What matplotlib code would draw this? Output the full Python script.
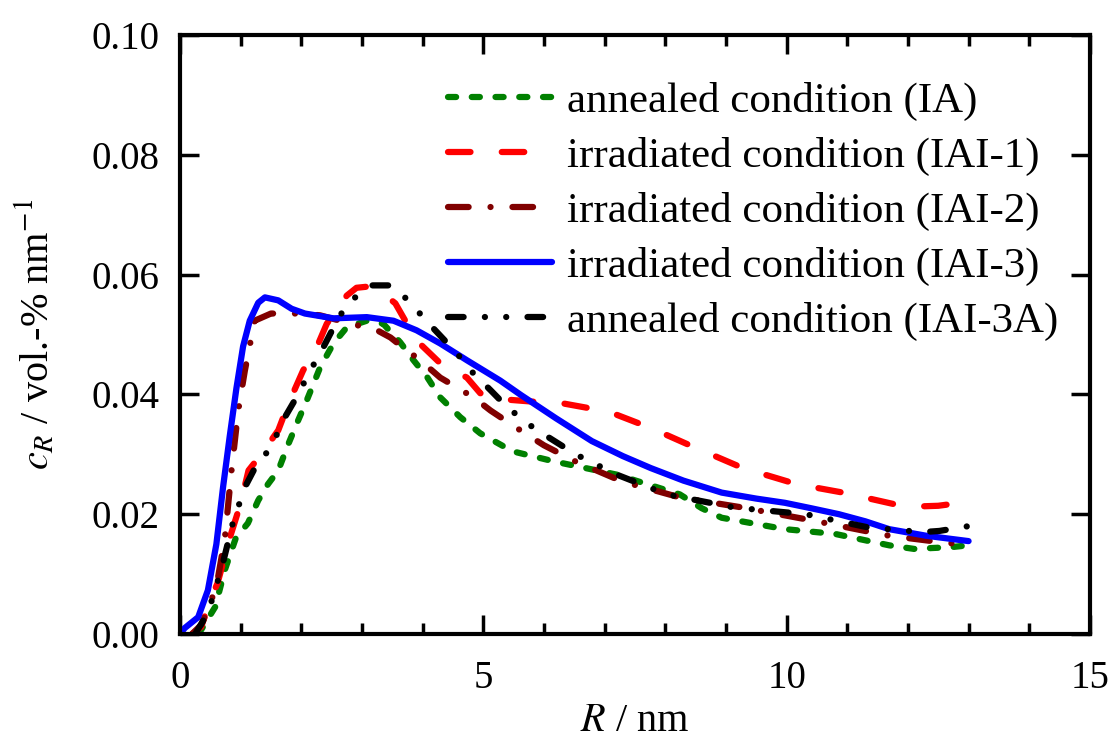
import matplotlib
matplotlib.use("Agg")
from matplotlib import pyplot as plt

plt.rcParams['font.family'] = ['Liberation Serif', 'DejaVu Serif']
plt.rcParams['mathtext.fontset'] = 'stix'

# annealed condition (IA)
r_ia = [0.3, 0.35, 0.58, 0.74, 0.92, 1.12, 1.29, 1.45, 1.62, 1.79, 1.95, 2.09, 2.31, 2.53, 2.75, 3.08,
        3.35, 3.63, 3.85, 4.08, 4.29, 4.62, 4.95, 5.48, 6.17, 7.2, 8.24, 8.6, 8.93, 9.97, 10.8, 11.69,
        12.1, 12.72, 13.0]
c_ia = [0, 0.0007, 0.0045, 0.0107, 0.016, 0.0185, 0.0223, 0.025, 0.0273, 0.0318, 0.0357, 0.039, 0.0445,
        0.0485, 0.0512, 0.0523, 0.0518, 0.0487, 0.0457, 0.0428, 0.0395, 0.0362, 0.0335, 0.0305, 0.0288,
        0.0266, 0.0233, 0.021, 0.0194, 0.0175, 0.0167, 0.0148, 0.0142, 0.0145, 0.0148]

# irradiated condition (IAI-1)
r_iai1 = [0.2, 0.35, 0.5, 0.62, 0.82, 1.0, 1.13, 1.34, 1.62, 1.79, 2.03, 2.26, 2.42, 2.75, 2.91, 3.1,
          3.33, 3.55, 3.9, 4.29, 4.73, 4.95, 5.3, 5.8, 6.31, 7.07, 7.76, 8.45, 9.28, 10.17, 10.93, 11.76,
          12.2, 12.5, 12.8, 13.0]
c_iai1 = [0, 0.0012, 0.0057, 0.0085, 0.016, 0.0218, 0.0273, 0.030, 0.034, 0.0385, 0.044, 0.048, 0.0518,
          0.0565, 0.0578, 0.058, 0.057, 0.0552, 0.049, 0.0452, 0.0428, 0.0402, 0.0392, 0.0388, 0.0385,
          0.0371, 0.0344, 0.0313, 0.0277, 0.025, 0.0236, 0.0217, 0.0213, 0.0214, 0.0218, 0.0222]

# irradiated condition (IAI-2)
r_iai2 = [0.2, 0.35, 0.5, 0.62, 0.74, 0.85, 0.96, 1.07, 1.23, 1.5, 1.98, 2.31, 2.64, 2.94, 3.25, 3.47,
          3.68, 3.96, 4.29, 4.84, 5.12, 5.55, 6.0, 6.52, 7.28, 8.24, 9.28, 10.45, 11.69, 12.4, 13.0]
c_iai2 = [0, 0.0015, 0.005, 0.009, 0.016, 0.0273, 0.0373, 0.044, 0.0523, 0.0535, 0.0535, 0.0532, 0.0523,
          0.0515, 0.0507, 0.0495, 0.0478, 0.0457, 0.0428, 0.0395, 0.0373, 0.0344, 0.0315, 0.0288, 0.0255,
          0.0228, 0.0211, 0.0189, 0.0164, 0.0155, 0.0148]

# irradiated condition (IAI-3)
r_iai3 = [0, 0.08, 0.3, 0.46, 0.6, 0.71, 0.82, 0.93, 1.04, 1.15, 1.29, 1.4, 1.62, 1.84, 2.06, 2.53, 3.08,
          3.52, 3.9, 4.29, 4.73, 5.28, 5.62, 6.2, 6.79, 7.3, 7.76, 8.3, 8.93, 9.5, 9.97, 10.4, 10.86, 11.3,
          11.69, 12.3, 13.0]
c_iai3 = [0, 0.001, 0.0028, 0.0073, 0.015, 0.0245, 0.033, 0.041, 0.048, 0.0523, 0.0553, 0.0562, 0.0557,
          0.0543, 0.0535, 0.0527, 0.0529, 0.0523, 0.0507, 0.0485, 0.0457, 0.0423, 0.0399, 0.036, 0.0322,
          0.0297, 0.0277, 0.0256, 0.0236, 0.0226, 0.0219, 0.021, 0.0200, 0.0188, 0.0175, 0.0164, 0.0155]

# annealed condition (IAI-3A)
r_iai3a = [0.25, 0.46, 0.68, 0.87, 1.07, 1.24, 1.5, 1.73, 1.92, 2.15, 2.37, 2.61, 2.77, 3.02, 3.17, 3.44,
           3.68, 3.91, 4.18, 4.57, 4.79, 5.12, 5.4, 5.83, 6.52, 7.2, 8.03, 9.14, 10.31, 11.34, 12.24, 12.52, 13.0]
c_iai3a = [0, 0.0035, 0.0107, 0.0185, 0.0245, 0.0278, 0.0312, 0.0362, 0.0395, 0.044, 0.048, 0.0527, 0.0552,
           0.0573, 0.0582, 0.0582, 0.0565, 0.054, 0.051, 0.0468, 0.044, 0.0407, 0.0378, 0.0344, 0.030, 0.0266,
           0.0233, 0.0211, 0.020, 0.0178, 0.017, 0.0172, 0.018]

fig = plt.figure(figsize=(11.11, 7.38), dpi=100)
ax = fig.add_axes([0.162, 0.141, 0.819, 0.8115])

lw = 4.5
kw = dict(lw=lw, dash_capstyle='round', solid_capstyle='round', solid_joinstyle='round')
ax.plot(r_ia, c_ia, color='green', dashes=(1.3, 2.5), label='annealed condition (IA)', **kw)
ax.plot(r_iai1, c_iai1, color='red', dashes=(3.6, 5.0), label='irradiated condition (IAI-1)', **kw)
ax.plot(r_iai2, c_iai2, color='#800000', dashes=(3.3, 3.5, 0.01, 3.5), label='irradiated condition (IAI-2)', **kw)
ax.plot(r_iai3, c_iai3, color='blue', label='irradiated condition (IAI-3)', **kw)
ax.plot(r_iai3a, c_iai3a, color='black', dashes=(2.5, 3.4, 0.01, 3.4, 0.01, 3.4), label='annealed condition (IAI-3A)', **kw)

ax.set_xlim(0, 15)
ax.set_ylim(0, 0.10)
ax.set_xticks([0, 5, 10, 15])
ax.set_xticks(range(0, 16), minor=True)
ax.set_yticks([0, 0.02, 0.04, 0.06, 0.08, 0.10])
ax.set_yticklabels(['0.00', '0.02', '0.04', '0.06', '0.08', '0.10'])
ax.tick_params(which='both', direction='in', top=True, right=True, width=2.5, labelsize=28)
ax.tick_params(axis='y', pad=15)
ax.tick_params(axis='x', pad=19)
ax.tick_params(which='major', length=14)
ax.tick_params(which='minor', length=8)
for s in ax.spines.values():
    s.set_linewidth(3)

ax.set_xlabel('$R$ / nm', fontsize=29, labelpad=4)
ax.set_ylabel('$c_R$ / vol.-% nm$^{-1}$', fontsize=29, labelpad=24)

leg = ax.legend(loc='upper left', bbox_to_anchor=(0.2945, 0.922), frameon=False, fontsize=31,
                handlelength=2.42, labelspacing=0.37, borderpad=0, borderaxespad=0, handletextpad=0.35)

fig.savefig('out.png', dpi=100)
